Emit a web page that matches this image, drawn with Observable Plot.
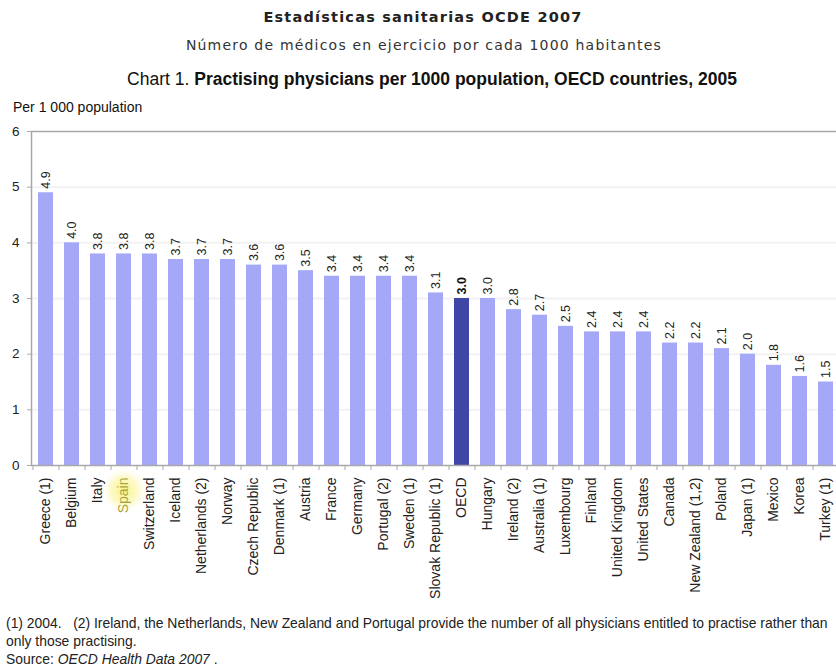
<!DOCTYPE html>
<html>
<head>
<meta charset="utf-8">
<script src="https://cdn.jsdelivr.net/npm/d3@7"></script>
<script src="https://cdn.jsdelivr.net/npm/@observablehq/plot@0.6"></script>
<style>
  html, body { margin: 0; padding: 0; background: #fff; width: 836px; height: 668px; overflow: hidden; position: relative; }
  .t { position: absolute; white-space: nowrap; }
  #title { left: 0; width: 846px; top: 9px; text-align: center; font: bold 14.5px "DejaVu Sans"; letter-spacing: 1.2px; color: #222; }
  #subtitle { left: 0; width: 848px; top: 37px; text-align: center; font: 14px "DejaVu Sans"; letter-spacing: 1.2px; color: #333; }
  #ctitle { left: 0; width: 864px; top: 69px; text-align: center; font: 17.5px "Liberation Sans"; color: #111; }
  #ytitle { left: 13px; top: 99px; font: 14px "Liberation Sans"; color: #111; }
  #chart { position: absolute; left: 0; top: 120px; }
  #foot { left: 6px; top: 614px; font: 13.9px/18px "Liberation Sans"; color: #222; }
</style>
</head>
<body>
<div class="t" id="title">Estadísticas sanitarias OCDE 2007</div>
<div class="t" id="subtitle">Número de médicos en ejercicio por cada 1000 habitantes</div>
<div class="t" id="ctitle">Chart 1. <b>Practising physicians per 1000 population, OECD countries, 2005</b></div>
<div class="t" id="ytitle">Per 1 000 population</div>
<div id="chart"></div>
<div class="t" id="foot">(1) 2004.&nbsp;&nbsp; (2) Ireland, the Netherlands, New Zealand and Portugal provide the number of all physicians entitled to practise rather than<br>only those practising.<br>Source: <i>OECD Health Data 2007</i> .</div>
<script>
const countries = ["Greece (1)", "Belgium", "Italy", "Spain", "Switzerland", "Iceland", "Netherlands (2)", "Norway", "Czech Republic", "Denmark (1)", "Austria", "France", "Germany", "Portugal (2)", "Sweden (1)", "Slovak Republic (1)", "OECD", "Hungary", "Ireland (2)", "Australia (1)", "Luxembourg", "Finland", "United Kingdom", "United States", "Canada", "New Zealand (1,2)", "Poland", "Japan (1)", "Mexico", "Korea", "Turkey (1)"];
const values = [4.9, 4.0, 3.8, 3.8, 3.8, 3.7, 3.7, 3.7, 3.6, 3.6, 3.5, 3.4, 3.4, 3.4, 3.4, 3.1, 3.0, 3.0, 2.8, 2.7, 2.5, 2.4, 2.4, 2.4, 2.2, 2.2, 2.1, 2.0, 1.8, 1.6, 1.5];
const yTicks = [0, 1, 2, 3, 4, 5, 6];
const average = "OECD";
const highlighted = "Spain";

const data = countries.map((c, i) => ({country: c, value: values[i]}));
const others = data.filter(d => d.country !== average);
const avg = data.filter(d => d.country === average);

const plot = Plot.plot({
  width: 850,
  height: 490,
  marginTop: 11,
  marginBottom: 145,
  marginLeft: 31,
  marginRight: 10,
  style: {fontFamily: "Liberation Sans", background: "#fff", overflow: "visible", maxWidth: "none"},
  x: {domain: countries, paddingInner: 0.42, paddingOuter: 0.21, label: null},
  y: {domain: [0, 6], ticks: yTicks, label: null},
  marks: [
    Plot.ruleY(yTicks.slice(1, -1), {stroke: "#f2f2f2", strokeWidth: 2}),
    Plot.dot([highlighted], {x: d => d, y: () => 0, dy: 25, r: 24, fill: "url(#spainGlow)", stroke: null}),
    Plot.barY(data, {x: "country", y: "value", fill: d => d.country === average ? "#3f46a6" : "#a4a8f7"}),
    Plot.frame({stroke: "#a8a8a8", strokeWidth: 1.5}),
    Plot.axisY({ticks: yTicks, tickSize: 4, tickPadding: 8, fontSize: 13.5, fill: "#222", stroke: "#a8a8a8", tickFormat: d3.format("d")}),
    Plot.axisX({ticks: countries, tickSize: 5, text: null, dx: -13, stroke: "#a8a8a8"}),
    Plot.axisX({ticks: countries.filter(c => c !== highlighted), tickSize: 0, tickPadding: 12, tickRotate: -90, fontSize: 14, fill: "#222"}),
    Plot.axisX({ticks: [highlighted], tickSize: 0, tickPadding: 12, tickRotate: -90, fontSize: 14, fill: "#aca43a"}),
    Plot.text(others, {x: "country", y: "value", text: d => d.value.toFixed(1), rotate: -90, textAnchor: "start", dy: -4, fontSize: 12.5, fill: "#222"}),
    Plot.text(avg, {x: "country", y: "value", text: d => d.value.toFixed(1), rotate: -90, textAnchor: "start", dy: -4, fontSize: 12.5, fontWeight: "bold", fill: "#111"})
  ]
});

const defs = d3.select(plot).insert("defs", ":first-child");
const g = defs.append("radialGradient").attr("id", "spainGlow");
g.append("stop").attr("offset", "0%").attr("stop-color", "#fbf38c").attr("stop-opacity", 1);
g.append("stop").attr("offset", "55%").attr("stop-color", "#fdf8b8").attr("stop-opacity", 0.8);
g.append("stop").attr("offset", "100%").attr("stop-color", "#ffffff").attr("stop-opacity", 0);
document.getElementById("chart").appendChild(plot);
</script>
</body>
</html>
